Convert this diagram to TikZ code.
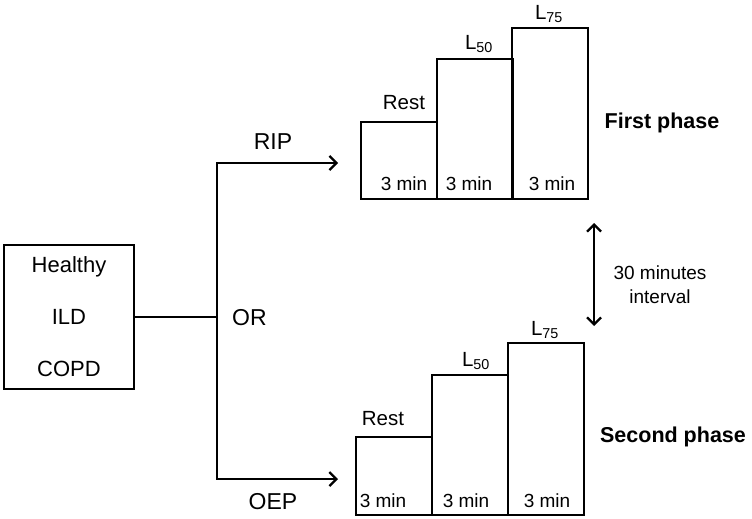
\documentclass[tikz,border=0pt]{standalone}
\usepackage{fontspec}
\setmainfont{Liberation Sans}
\usetikzlibrary{arrows.meta}

\tikzset{
  txt/.style={font=\fontsize{19}{22}\selectfont, inner sep=0pt},
  lvl/.style={font=\fontsize{20.5}{24}\selectfont, inner sep=0pt},
  big/.style={font=\fontsize{23}{26}\selectfont, inner sep=0pt},
  phase/.style={font=\fontsize{21.5}{24}\selectfont\bfseries, inner sep=0pt},
  bar/.style={draw, line width=1.9pt, minimum width=76pt, inner sep=0pt, anchor=south west},
  link/.style={line width=2.3pt},
  >={Straight Barb[length=7pt,width=14pt,line width=2.3pt]},
}

\begin{document}
\begin{tikzpicture}[x=1pt, y=-1pt]
        \useasboundingbox (0,0) rectangle (752,519);

        % groups
        \node[draw, line width=2.6pt, minimum width=130pt, minimum height=144pt, align=center,
              font=\fontsize{22}{52}\selectfont] (groups) at (69,317) {Healthy\\ILD\\COPD};

        \coordinate (split) at (217,317);
        \coordinate (ripend) at (338,163);
        \coordinate (oepend) at (338,479);

        \draw[link] (groups.east) -- (split);
        \draw[link, ->] (split) |- (ripend);
        \draw[link, ->] (split) |- (oepend);

        \node[big] (rip) at (273,142) {RIP};
        \node[big, anchor=west] (or) at (232,318) {OR};
        \node[big] (oep) at (273,502) {OEP};

        % first phase
        \node[bar, minimum height=77pt] (rest1) at (360,200) {};
        \node[bar, minimum height=140pt] (lfifty1) at (436,200) {};
        \node[bar, minimum height=171pt] (lseventy1) at (511,200) {};

        \node[lvl] (rest1lab) at (404,103) {Rest};
        \node[lvl] (lfifty1lab) at (479,44) {L\textsubscript{50}};
        \node[lvl] (lseventy1lab) at (549,14) {L\textsubscript{75}};

        \node[txt] (t1a) at (404,184) {3 min};
        \node[txt] (t1b) at (469,184) {3 min};
        \node[txt] (t1c) at (552,184) {3 min};

        % second phase
        \node[bar, minimum height=78pt] (rest2) at (355,516) {};
        \node[bar, minimum height=140pt] (lfifty2) at (431,516) {};
        \node[bar, minimum height=172pt] (lseventy2) at (507,516) {};

        \node[lvl] (rest2lab) at (383,419) {Rest};
        \node[lvl] (lfifty2lab) at (476,361) {L\textsubscript{50}};
        \node[lvl] (lseventy2lab) at (545,330) {L\textsubscript{75}};

        \node[txt] (t2a) at (383,501) {3 min};
        \node[txt] (t2b) at (466,501) {3 min};
        \node[txt] (t2c) at (547,501) {3 min};

        % interval
        \coordinate (gaptop) at (594,223);
        \coordinate (gapbot) at (594,326);
        \draw[link, <->] (gaptop) -- (gapbot);
        \node[txt, align=center, font=\fontsize{19}{24}\selectfont] (gap) at (660,285) {30 minutes\\interval};

        \node[phase] (first) at (662,123) {First phase};
        \node[phase] (second) at (673,437) {Second phase};
\end{tikzpicture}
\end{document}
